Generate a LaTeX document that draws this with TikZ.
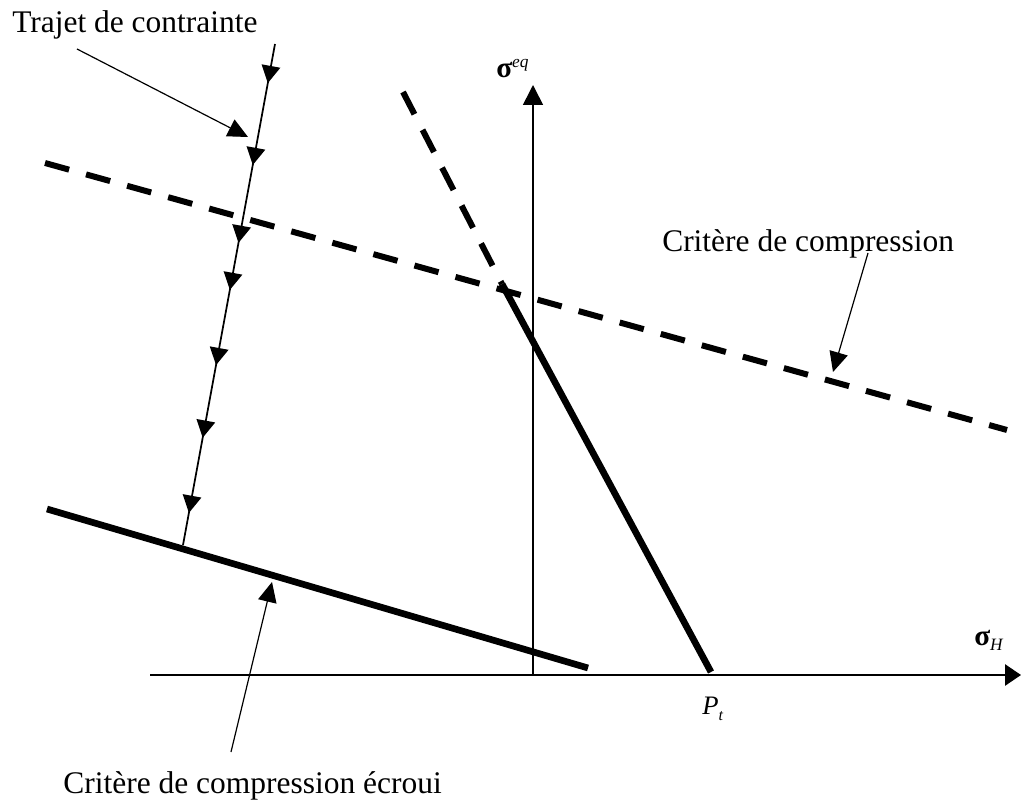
\documentclass[tikz,border=0pt]{standalone}
\usepackage{fontspec}
\setmainfont{Liberation Serif}
\usetikzlibrary{arrows.meta,decorations.markings}
\begin{document}
\begin{tikzpicture}[x=0.75pt,y=-0.75pt,
  lbl/.style={inner sep=0pt,font=\fontsize{23.6}{28}\selectfont},
  mathlbl/.style={inner sep=0pt,font=\fontsize{22}{24}\selectfont},
  axisline/.style={line width=1.2pt,-{Triangle[length=15pt,width=15pt]}},
  haxisline/.style={line width=1.2pt,-{Triangle[length=12pt,width=16pt]}},
  thickline/.style={line width=5pt},
  dashline/.style={line width=4.5pt,dash pattern=on 18.75pt off 13.2pt},
  pointer/.style={line width=0.9pt,-{Triangle[length=15pt,width=14pt]}},
  pathline/.style={line width=1.3pt,postaction={decorate},
    decoration={markings,
      mark=at position 0.078 with {\arrow{Triangle[length=13pt,width=14pt]}},
      mark=at position 0.2415 with {\arrow{Triangle[length=13pt,width=14pt]}},
      mark=at position 0.397 with {\arrow{Triangle[length=13pt,width=14pt]}},
      mark=at position 0.491 with {\arrow{Triangle[length=13pt,width=14pt]}},
      mark=at position 0.641 with {\arrow{Triangle[length=13pt,width=14pt]}},
      mark=at position 0.786 with {\arrow{Triangle[length=13pt,width=14pt]}},
      mark=at position 0.936 with {\arrow{Triangle[length=13pt,width=14pt]}}}}
]
\useasboundingbox (0,0) rectangle (1021,802);
% coordinates
\coordinate (O) at (533,675);
\coordinate (xs) at (150,675);
\coordinate (xe) at (1021,675);
\coordinate (ye) at (533,85);
\coordinate (a1) at (47,509);
\coordinate (a2) at (588,668);
\coordinate (d1) at (45,163);
\coordinate (d2) at (1007,430);
\coordinate (s0) at (403,92);
\coordinate (s1) at (502,284);
\coordinate (s2) at (711,672);
\coordinate (p0) at (275,44);
\coordinate (p1) at (183,545);
\coordinate (t0) at (77,49);
\coordinate (t1) at (248,137);
\coordinate (c0) at (868,253);
\coordinate (c1) at (833,372);
\coordinate (e0) at (231,752);
\coordinate (e1) at (272,582);
% axes
\draw[haxisline] (xs) -- (xe);
\draw[axisline] (O) -- (ye);
% criteria
\draw[thickline] (a1) -- (a2);
\draw[dashline] (d1) -- (d2);
\draw[dashline] (s0) -- (s1);
\draw[thickline] (s1) -- (s2);
% stress path
\draw[pathline] (p0) -- (p1);
% labels
\node[lbl,anchor=base west] (trajet) at (12,33) {Trajet de contrainte};
\node[lbl,anchor=base west] (crit) at (662,252) {Critère de compression};
\node[lbl,anchor=base east] (ecroui) at (442,793) {Critère de compression écroui};
\node[mathlbl,anchor=base west] (sigeq) at (496,78) {\bfseries σ\raisebox{8pt}{\mdseries\fontsize{13}{13}\selectfont\itshape eq}};
\node[mathlbl,anchor=base west] (sigH) at (974,645) {\bfseries σ\raisebox{-4pt}{\mdseries\fontsize{13}{13}\selectfont\itshape H}};
\node[mathlbl,anchor=base west] (Pt) at (702,714) {\fontsize{20}{24}\selectfont\itshape P\raisebox{-5pt}{\fontsize{12}{12}\selectfont t}};
% pointers
\draw[pointer] (t0) -- (t1);
\draw[pointer] (c0) -- (c1);
\draw[pointer] (e0) -- (e1);
\end{tikzpicture}
\end{document}
